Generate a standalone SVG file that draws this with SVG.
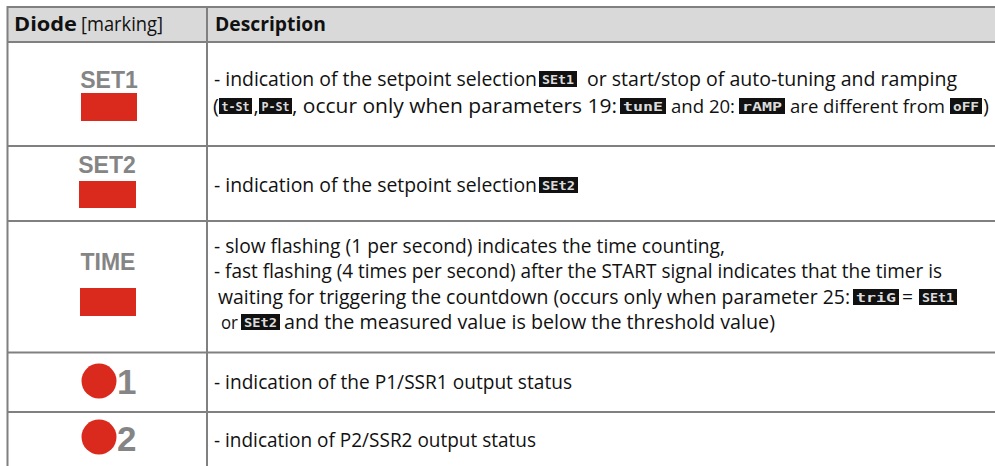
<svg xmlns="http://www.w3.org/2000/svg" width="995" height="466" viewBox="0 0 995 466">
<defs>
<style>
.grid{stroke:#808080;stroke-width:2;fill:none}
.t{font-family:"Open Sans","Noto Sans","Liberation Sans",sans-serif;font-size:20px;fill:#111}
.b{font-weight:bold}
.lbl{font-family:"Liberation Sans",Arial,sans-serif;font-weight:bold;font-size:23px;fill:#858585;text-anchor:middle}
.num{font-family:"Liberation Sans",Arial,sans-serif;font-weight:bold;font-size:35px;fill:#858585}
.led{fill:#da2a1e}
.bg{fill:#111}
.seg{font-family:"DejaVu Sans Mono",monospace;font-weight:bold;font-size:13px;fill:#dcdcdc}
</style>
</defs>
<rect width="995" height="466" fill="#ffffff"/>
<g id="table">
<rect x="7" y="7" width="988" height="35" fill="#d9d9d9"/>
<line class="grid" x1="7" y1="7" x2="995" y2="7"/>
<line class="grid" x1="7" y1="42" x2="995" y2="42"/>
<line class="grid" x1="7" y1="146" x2="995" y2="146"/>
<line class="grid" x1="7" y1="221" x2="995" y2="221"/>
<line class="grid" x1="7" y1="352.5" x2="995" y2="352.5"/>
<line class="grid" x1="7" y1="412" x2="995" y2="412"/>
<line class="grid" x1="7.5" y1="6" x2="7.5" y2="466"/>
<line class="grid" x1="207" y1="6" x2="207" y2="466"/>
</g>
<g id="header">
<text class="t b" x="14" y="31" textLength="63" lengthAdjust="spacingAndGlyphs">Diode</text>
<text class="t" x="81" y="31" textLength="82" lengthAdjust="spacingAndGlyphs">[marking]</text>
<text class="t b" x="215" y="31" textLength="111" lengthAdjust="spacingAndGlyphs">Description</text>
</g>
<g id="row-set1">
<text class="lbl" x="109" y="88">SET1</text>
<rect class="led" x="81" y="93" width="56" height="28"/>
<text class="t" x="214" y="86" style="font-size:19.4px" textLength="323" lengthAdjust="spacingAndGlyphs">- indication of the setpoint selection</text>
<rect class="bg" x="539" y="71" width="38" height="16"/><text class="seg" x="542" y="83.5" textLength="32" lengthAdjust="spacingAndGlyphs">SEt1</text>
<text class="t" x="587" y="86" textLength="370" lengthAdjust="spacingAndGlyphs">or start/stop of auto-tuning and ramping</text>
<text class="t" x="213" y="113">(</text>
<rect class="bg" x="219" y="98" width="33" height="16"/><text class="seg" x="221.5" y="110.5" textLength="28" lengthAdjust="spacingAndGlyphs">t-St</text>
<text class="t" x="253.5" y="113">,</text>
<rect class="bg" x="259" y="98" width="33" height="16"/><text class="seg" x="261.5" y="110.5" textLength="28" lengthAdjust="spacingAndGlyphs">P-St</text>
<text class="t" x="292" y="113" textLength="325" lengthAdjust="spacingAndGlyphs">, occur only when parameters 19:</text>
<rect class="bg" x="620" y="98" width="46" height="16"/><text class="seg" x="623" y="110.5" textLength="40" lengthAdjust="spacingAndGlyphs">tunE</text>
<text class="t" x="671" y="113" style="font-size:18.5px" textLength="64" lengthAdjust="spacingAndGlyphs">and 20:</text>
<rect class="bg" x="739" y="98" width="46" height="16"/><text class="seg" x="742" y="110.5" textLength="40" lengthAdjust="spacingAndGlyphs">rAMP</text>
<text class="t" x="790" y="113" style="font-size:18.4px" textLength="155" lengthAdjust="spacingAndGlyphs">are different from</text>
<rect class="bg" x="950" y="98" width="32" height="16"/><text class="seg" x="953" y="110.5" textLength="26" lengthAdjust="spacingAndGlyphs">oFF</text>
<text class="t" x="983" y="113">)</text>
</g>
<g id="row-set2">
<text class="lbl" x="107" y="173">SET2</text>
<rect class="led" x="79" y="181" width="57" height="27"/>
<text class="t" x="214" y="192" style="font-size:19.4px" textLength="323" lengthAdjust="spacingAndGlyphs">- indication of the setpoint selection</text>
<rect class="bg" x="539" y="177" width="39" height="16"/><text class="seg" x="542" y="189.5" textLength="33" lengthAdjust="spacingAndGlyphs">SEt2</text>
</g>
<g id="row-time">
<text class="lbl" x="108" y="270">TIME</text>
<rect class="led" x="80" y="288" width="56" height="28"/>
<text class="t" x="214" y="253" textLength="511" lengthAdjust="spacingAndGlyphs">- slow flashing (1 per second) indicates the time counting,</text>
<text class="t" x="214" y="278" textLength="728" lengthAdjust="spacingAndGlyphs">- fast flashing (4 times per second) after the START signal indicates that the timer is</text>
<text class="t" x="218" y="304" style="font-size:19.1px" textLength="632" lengthAdjust="spacingAndGlyphs">waiting for triggering the countdown (occurs only when parameter 25:</text>
<rect class="bg" x="853" y="289" width="46" height="16"/><text class="seg" x="856" y="301.5" textLength="40" lengthAdjust="spacingAndGlyphs">triG</text>
<text class="t" x="902" y="304" textLength="11" lengthAdjust="spacingAndGlyphs">=</text>
<rect class="bg" x="919" y="289" width="38" height="16"/><text class="seg" x="922" y="301.5" textLength="32" lengthAdjust="spacingAndGlyphs">SEt1</text>
<text class="t" x="221" y="329" style="font-size:19px" textLength="17" lengthAdjust="spacingAndGlyphs">or</text>
<rect class="bg" x="241" y="314" width="39" height="16"/><text class="seg" x="244" y="326.5" textLength="33" lengthAdjust="spacingAndGlyphs">SEt2</text>
<text class="t" x="284" y="329" style="font-size:19.6px" textLength="491" lengthAdjust="spacingAndGlyphs">and the measured value is below the threshold value)</text>
</g>
<g id="row-p1">
<circle class="led" cx="99" cy="381" r="17.5"/>
<text class="num" x="117" y="394">1</text>
<text class="t" x="214" y="389" textLength="358" lengthAdjust="spacingAndGlyphs">- indication of the P1/SSR1 output status</text>
</g>
<g id="row-p2">
<circle class="led" cx="99" cy="437" r="17.5"/>
<text class="num" x="117" y="451">2</text>
<text class="t" x="214" y="447" textLength="322" lengthAdjust="spacingAndGlyphs">- indication of P2/SSR2 output status</text>
</g>
</svg>
